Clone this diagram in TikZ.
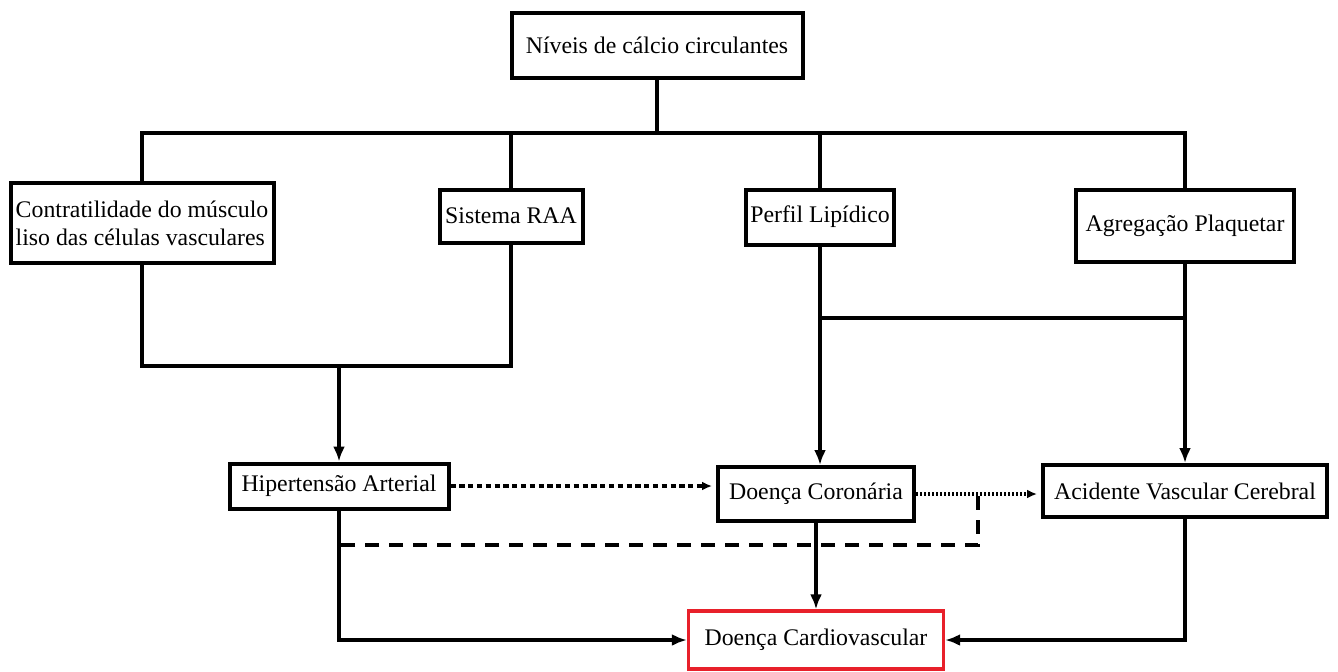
\documentclass[tikz,border=0pt]{standalone}
\usepackage{fontspec}
\setmainfont{Liberation Serif}
\usepackage{xcolor}
\usetikzlibrary{arrows.meta,calc,positioning}
\definecolor{cardred}{RGB}{232,32,42}
\tikzset{%
	box/.style      = {draw, rectangle, line width=2pt, inner sep=1pt, text centered, font=\fontsize{11.9}{14}\selectfont},
	redbox/.style   = {box, draw=cardred, line width=1.7pt},
	conn/.style     = {line width=1.7pt},
	arrow/.style    = {conn, -{Latex[length=7.5pt,width=6pt]}},
	dotarrow/.style = {line width=1.7pt, dash pattern=on 2.6pt off 1.8pt, -{Latex[length=5pt,width=4.5pt]}, shorten >=2pt},
	finearrow/.style= {line width=1.7pt, dash pattern=on 1.2pt off 0.8pt, -{Latex[length=5pt,width=4.5pt]}, shorten >=2pt},
	dashline/.style = {line width=1.7pt, dash pattern=on 7pt off 5pt},
}
\begin{document}
\begin{tikzpicture}[x=0.5pt,y=-0.5pt]
	\useasboundingbox (0,0) rectangle (1338,671);
	% top
	\node[box, minimum width=145.5pt, minimum height=32.5pt] (niveis) at (657,45) {Níveis de cálcio circulantes};
	% second row
	\node[box, minimum width=131.5pt, minimum height=40pt, align=left] (contrat) at (142,223) {Contratilidade do músculo\\liso das células vasculares};
	\node[box, minimum width=71.5pt, minimum height=26.5pt] (raa) at (511,216) {Sistema RAA};
	\node[box, minimum width=74pt, minimum height=27.5pt] (perfil) at (820,217) {Perfil Lipídico};
	\node[box, minimum width=109pt, minimum height=36pt] (agreg) at (1185,226) {Agregação Plaquetar};
	% third row
	\node[box, minimum width=109.5pt, minimum height=22.5pt] (hiper) at (339,486) {Hipertensão Arterial};
	\node[box, minimum width=98pt, minimum height=27pt] (coron) at (816,494) {Doença Coronária};
	\node[box, minimum width=142pt, minimum height=26pt] (avc) at (1185,491) {Acidente Vascular Cerebral};
	% result
	\node[redbox, minimum width=127.5pt, minimum height=29pt] (cardio) at (816,640) {Doença Cardiovascular};

	\coordinate (bus) at (657,133);
	\coordinate (join) at (339,366);
	\coordinate (pl) at (820,318);
	\coordinate (dk) at (978,545);
	\coordinate (dtop) at (978,496);

	\draw[conn] (niveis) -- (bus);
	\draw[conn] (contrat.north) |- (bus) -| (agreg.north);
	\draw[conn] (raa.north) -- (raa.north |- bus);
	\draw[conn] (perfil.north) -- (perfil.north |- bus);

	\draw[conn] (contrat.south) |- (join) -| (raa.south);
	\draw[arrow] (join) -- (hiper.north);

	\draw[arrow] (perfil.south) -- (perfil.south |- coron.north);
	\draw[conn] (pl) -| (agreg.south);
	\draw[arrow] (agreg.south) -- (avc.north);

	\draw[dotarrow] (hiper.east) -- (hiper.east -| coron.west);
	\draw[finearrow] (coron.east) -- (coron.east -| avc.west);
	\draw[dashline] (dtop) -- (dk) -- (dk -| hiper.south);

	\draw[arrow] (hiper.south) |- (cardio.west);
	\draw[arrow] (coron.south) -- (cardio.north);
	\draw[arrow] (avc.south) |- (cardio.east);
\end{tikzpicture}
\end{document}
